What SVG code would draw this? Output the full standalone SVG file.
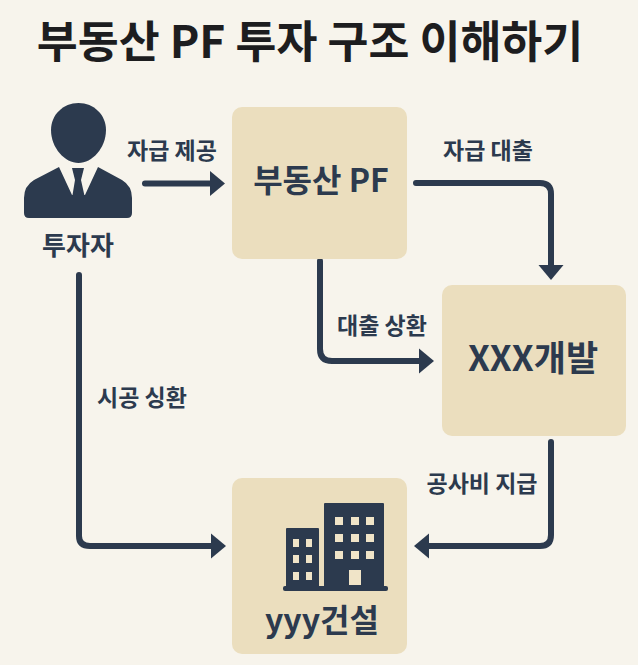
<svg xmlns="http://www.w3.org/2000/svg" width="638" height="665" viewBox="0 0 638 665">
<style>
text{font-family:"Noto Sans CJK KR","Noto Sans",sans-serif;fill:#2c3a4e;text-anchor:middle}
.box{fill:#ebdebe}
.lab{font-size:23px;font-weight:700}
.name{font-size:35px;font-weight:700}
.con{fill:none;stroke:#2c3a4e;stroke-width:6;stroke-linecap:round;stroke-linejoin:round}
.head{fill:#2c3a4e}
.d{fill:#2c3a4e}
.w{fill:#f0e4c8}
</style>
<defs>
<marker id="ah" markerUnits="userSpaceOnUse" markerWidth="17" markerHeight="26" refX="1" refY="13" orient="auto"><path d="M0 0.5L15 13L0 25.5Z" class="head"/></marker>
</defs>
<rect width="638" height="665" fill="#f7f4ec"/>
<text x="310" y="58" font-size="44.5" font-weight="700" style="fill:#1d1d1f">부동산 PF 투자 구조 이해하기</text>
<g id="connectors">
<path class="con" d="M145 183.500H211" marker-end="url(#ah)"/>
<path class="con" d="M416 183H540Q551 183 551 194V266" marker-end="url(#ah)"/>
<path class="con" d="M320 261V349Q320 361 332 361H420" marker-end="url(#ah)"/>
<path class="con" d="M79 275V536Q79 546 90 546H212" marker-end="url(#ah)"/>
<path class="con" d="M551 442V535Q551 546 540 546H428" marker-end="url(#ah)"/>
<text class="lab" x="172" y="159">자급 제공</text>
<text class="lab" x="488" y="159">자급 대출</text>
<text class="lab" x="382" y="334">대출 상환</text>
<text class="lab" x="142" y="406">시공 싱환</text>
<text class="lab" x="482" y="492">공사비 지급</text>
</g>
<g id="investor">
<path class="d" d="M78.500 103C94 103 106 115 106 130C106 148 92 163 78.500 163C65 163 51 148 51 130C51 115 63 103 78.500 103Z"/>
<path class="d" d="M59 167L34 180Q24 186 24 198V213Q24 218 29 218H127Q132 218 132 213V198Q132 186 122 180L98 167L85 195H72Z"/>
<path class="d" d="M72 168H84L81 180L85 198H72L75 180Z"/>
<text x="78" y="255" font-size="26" font-weight="700">투자자</text>
</g>
<g id="pf">
<rect class="box" x="232" y="107" width="175" height="152" rx="10"/>
<text class="name" x="321" y="192" style="font-size:32px">부동산 PF</text>
</g>
<g id="dev">
<rect class="box" x="442" y="285" width="184" height="151" rx="10"/>
<text class="name" x="533" y="371">XXX개발</text>
</g>
<g id="constr">
<rect class="box" x="232" y="478" width="175" height="176" rx="10"/>
<rect class="d" x="286" y="528" width="33" height="60" rx="1"/>
<rect class="d" x="324" y="503" width="60" height="85" rx="1"/>
<rect class="d" x="283" y="586" width="105" height="5" rx="2"/>
<g class="w">
<rect x="293" y="539" width="6" height="8"/><rect x="306" y="539" width="6" height="8"/>
<rect x="293" y="555" width="6" height="8"/><rect x="306" y="555" width="6" height="8"/>
<rect x="293" y="572" width="6" height="8"/><rect x="306" y="572" width="6" height="8"/>
<rect x="335" y="517" width="8" height="8"/><rect x="351" y="517" width="8" height="8"/><rect x="366" y="517" width="8" height="8"/>
<rect x="335" y="534" width="8" height="8"/><rect x="351" y="534" width="8" height="8"/><rect x="366" y="534" width="8" height="8"/>
<rect x="335" y="551" width="8" height="8"/><rect x="351" y="551" width="8" height="8"/><rect x="366" y="551" width="8" height="8"/>
<rect x="349" y="570" width="12" height="15"/>
</g>
<text class="name" x="322" y="632" style="font-size:32px">yyy건설</text>
</g>
</svg>
